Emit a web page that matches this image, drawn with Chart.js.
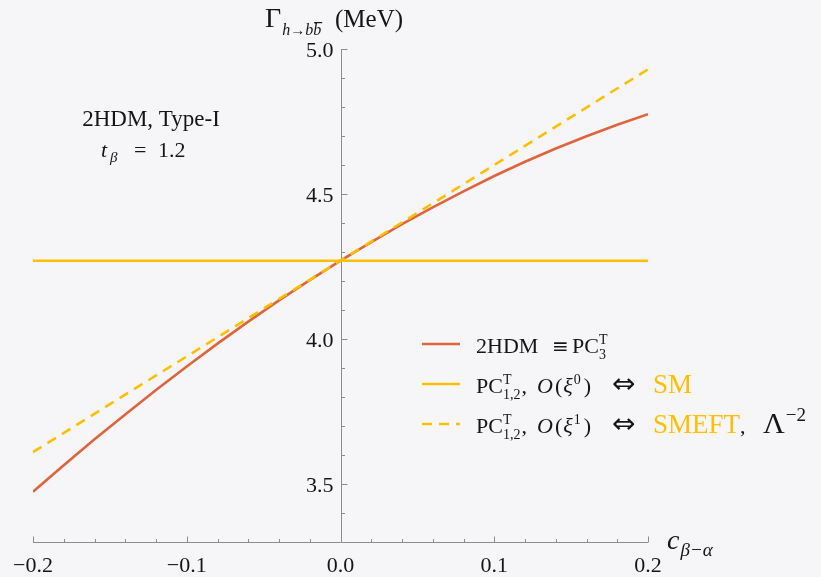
<!DOCTYPE html>
<html>
<head>
<meta charset="utf-8">
<script src="https://cdn.jsdelivr.net/npm/chart.js@4.4.1/dist/chart.umd.min.js"></script>
<style>
  body { margin: 0; background: #f6f6f9; }
  canvas { display: block; }
</style>
</head>
<body>
<canvas id="gammaChart" width="821" height="577"></canvas>
<script>
// Gamma(h -> b bbar) vs c_{beta-alpha}, 2HDM Type-I, t_beta = 1.2

const cbaValues = [-0.2, -0.18, -0.16, -0.14, -0.12, -0.1, -0.08, -0.06, -0.04, -0.02, 0,
  0.02, 0.04, 0.06, 0.08, 0.1, 0.12, 0.14, 0.16, 0.18, 0.2];
const hdmWidth = [3.473, 3.565, 3.654, 3.740, 3.824, 3.905, 3.984, 4.060, 4.133, 4.203, 4.270,
  4.334, 4.396, 4.454, 4.509, 4.562, 4.611, 4.657, 4.699, 4.739, 4.775];
const smX = [-0.2, 0.2];
const smWidth = [4.27, 4.27];
const smeftX = [-0.2, 0.2];
const smeftWidth = [3.61, 4.93];

const xTicks = [-0.2, -0.1, 0, 0.1, 0.2];
const yTicks = [3.5, 4.0, 4.5, 5.0];

const red = '#e0653d';
const gold = '#ffbf00';
const ink = '#151515';
const axisGrey = '#8c8c8c';
const serif = '"Liberation Serif", "DejaVu Serif", serif';

const fmt = v => (v < 0 ? '\u2212' : '') + Math.abs(v).toFixed(1);
const pts = (xs, ys) => xs.map((x, i) => ({ x: x, y: ys[i] }));

// draws a row of text pieces; a piece with adv:false does not move the pen, x: sets it
function rich(ctx, x, y, parts) {
  for (const p of parts) {
    if (p.x !== undefined) x = p.x;
    ctx.font = p.f || ('22px ' + serif);
    ctx.fillStyle = p.c || ink;
    ctx.fillText(p.t, x, y + (p.dy || 0));
    if (p.adv !== false) x += ctx.measureText(p.t).width + (p.dx || 0);
  }
  return x;
}

const f22 = '22px ' + serif;
const i22 = 'italic 22px ' + serif;
const s14 = '14px ' + serif;
const big = '27px ' + serif;
const arrow = '28px "DejaVu Sans", sans-serif';

function pcParts(sub) {
  return [
    { t: 'PC', f: f22 },
    { t: 'T', f: s14, dy: -9, adv: false },
    { t: sub, f: s14, dy: 6, dx: 1 },
  ];
}

function orderParts(n) {
  return [
    { t: ',', f: f22 }, { t: 'O', f: i22, x: 537, dx: 2 }, { t: '(', f: f22, dx: 1 },
    { t: '\u03be', f: i22, dx: 1 }, { t: n, f: s14, dy: -9, dx: 3 }, { t: ')', f: f22 }
  ];
}

const legendRows = [
  { ds: 0, parts: [{ t: '2HDM', f: f22 }, { t: '\u2261', f: '20px "DejaVu Sans", sans-serif', x: 552 },
    { t: 'PC', f: f22, x: 572 }, { t: 'T', f: s14, dy: -9, adv: false }, { t: '3', f: s14, dy: 6 }] },
  { ds: 1, parts: [...pcParts('1,2'), ...orderParts('0'),
    { t: '\u21d4', f: arrow, x: 612 }, { t: 'SM', f: big, c: gold, x: 653 }] },
  { ds: 2, parts: [...pcParts('1,2'), ...orderParts('1'),
    { t: '\u21d4', f: arrow, x: 612 }, { t: 'SMEFT', f: big, c: gold, x: 653 },
    { t: ',', f: f22 }, { t: '\u039b', f: '30px ' + serif, x: 763, dx: 1 }, { t: '\u22122', f: '19px ' + serif, dy: -12 }] },
];

const decor = {
  id: 'decor',
  beforeDraw(chart) {
    const c = chart.ctx;
    c.save();
    c.fillStyle = '#f6f6f9';
    c.fillRect(0, 0, chart.width, chart.height);
    c.restore();
  },
  beforeDatasetsDraw(chart) {
    const c = chart.ctx;
    const xs = chart.scales.x, ys = chart.scales.y;
    const x0 = Math.round(xs.getPixelForValue(0)) + 0.5;
    const yb = Math.round(ys.getPixelForValue(3.3)) + 0.5;
    const yt = ys.getPixelForValue(5.0);
    const seg = (a, b, cc, d) => { c.beginPath(); c.moveTo(a, b); c.lineTo(cc, d); c.stroke(); };
    c.save();
    c.strokeStyle = axisGrey;
    c.lineWidth = 1;
    seg(xs.getPixelForValue(-0.2), yb, xs.getPixelForValue(0.2), yb);
    seg(x0, yb, x0, yt);
    for (let i = -10; i <= 10; i++) {
      const px = Math.round(xs.getPixelForValue(i * 0.02)) + 0.5;
      seg(px, yb, px, yb - (i % 5 === 0 ? 6 : 3.5));
    }
    for (let i = 34; i <= 50; i++) {
      const py = Math.round(ys.getPixelForValue(i / 10)) + 0.5;
      seg(x0, py, x0 + (i % 5 === 0 ? 6 : 3.5), py);
    }
    c.restore();
  },
  afterDraw(chart) {
    const c = chart.ctx;
    const xs = chart.scales.x, ys = chart.scales.y;
    const x0 = xs.getPixelForValue(0);
    c.save();
    c.textBaseline = 'alphabetic';

    // y tick labels
    c.font = '22px ' + serif;
    c.fillStyle = ink;
    c.textAlign = 'right';
    yTicks.forEach(v => c.fillText(fmt(v), x0 - 7, ys.getPixelForValue(v) + 8));
    c.textAlign = 'left';

    // y axis title
    const tx = rich(c, 265, 27, [{ t: '\u0393', f: '28px ' + serif, dx: 1 }, { t: 'h', f: 'italic 16px ' + serif, dy: 8 },
      { t: '\u2192', f: '15px ' + serif, dy: 8 }, { t: 'b', f: 'italic 16px ' + serif, dy: 8 }]);
    c.font = 'italic 16px ' + serif;
    const bw = c.measureText('b').width;
    c.fillText('b', tx, 35);
    c.fillRect(tx + 1, 22, bw, 1.2);
    rich(c, 0, 27, [{ t: '(MeV)', f: '25px ' + serif, x: 335 }]);

    // x axis title
    rich(c, 667, 549, [{ t: 'c', f: 'italic 28px ' + serif, dx: 1 }, { t: '\u03b2\u2212\u03b1', f: 'italic 19px ' + serif, dy: 7 }]);

    // annotation
    c.font = '23px ' + serif;
    c.textAlign = 'center';
    c.fillText('2HDM, Type-I', 151, 126);
    c.textAlign = 'left';
    rich(c, 101, 157, [{ t: 't', f: i22 }, { t: '\u03b2', f: 'italic 15px ' + serif, dy: 5, x: 110 },
      { t: '=', f: f22, x: 134 }, { t: '1.2', f: f22, x: 158 }]);

    // legend
    legendRows.forEach((row, i) => {
      const ds = chart.data.datasets[row.ds];
      const ly = 344 + i * 40;
      c.strokeStyle = ds.borderColor;
      c.lineWidth = ds.borderWidth;
      c.setLineDash(ds.borderDash || []);
      c.beginPath();
      c.moveTo(422, ly);
      c.lineTo(460, ly);
      c.stroke();
      c.setLineDash([]);
      rich(c, 476, ly + 9, row.parts);
    });
    c.restore();
  }
};

const ctx = document.getElementById('gammaChart').getContext('2d');

new Chart(ctx, {
  type: 'line',
  data: {
    datasets: [
      {
        label: '2HDM',
        data: pts(cbaValues, hdmWidth),
        borderColor: red,
        borderWidth: 2.6,
        pointRadius: 0,
        order: 2
      },
      {
        label: 'SM',
        data: pts(smX, smWidth),
        borderColor: gold,
        borderWidth: 2.6,
        pointRadius: 0,
        order: 1
      },
      {
        label: 'SMEFT',
        data: pts(smeftX, smeftWidth),
        borderColor: gold,
        borderWidth: 2.6,
        borderDash: [10, 7],
        pointRadius: 0,
        order: 0
      }
    ]
  },
  options: {
    responsive: false,
    animation: false,
    layout: { padding: { left: 33, right: 173, top: 49, bottom: 0 } },
    plugins: {
      legend: { display: false },
      tooltip: { enabled: false }
    },
    scales: {
      x: {
        type: 'linear',
        min: -0.2,
        max: 0.2,
        grid: { display: false, drawTicks: false },
        border: { display: false },
        afterBuildTicks: s => { s.ticks = xTicks.map(v => ({ value: v })); },
        afterFit: s => { s.height = 35; },
        ticks: {
          padding: 11,
          color: ink,
          font: { family: serif, size: 22 },
          maxRotation: 0,
          callback: v => fmt(v)
        }
      },
      y: {
        type: 'linear',
        min: 3.3,
        max: 5.0,
        position: { x: 0 },
        grid: { display: false, drawTicks: false },
        border: { display: false },
        afterBuildTicks: s => { s.ticks = yTicks.map(v => ({ value: v })); },
        ticks: { display: false }
      }
    }
  },
  plugins: [decor]
});
</script>
</body>
</html>
